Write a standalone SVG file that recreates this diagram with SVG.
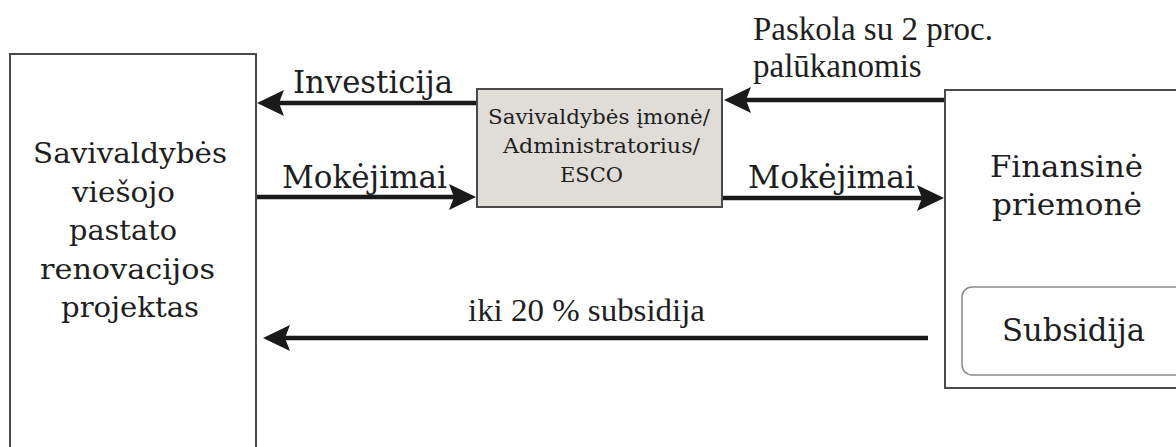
<svg xmlns="http://www.w3.org/2000/svg" width="1176" height="447" viewBox="0 0 1176 447">
<defs>
<style>
.box{fill:#ffffff;stroke:#4a4a4a;stroke-width:2}
.mid{fill:#e0ddd8;stroke:#4a4a4a;stroke-width:2}
.sub{fill:#ffffff;stroke:#8a8a8a;stroke-width:1.5}
.t{font-family:"Liberation Serif","Times New Roman",serif;fill:#1e1e1e}
.g{font-family:"DejaVu Serif","Liberation Serif",serif;fill:#1e1e1e}
.arr{stroke:#1a1a1a;stroke-width:4.5;fill:none}
</style>
<marker id="ah" markerUnits="userSpaceOnUse" markerWidth="28" markerHeight="26" viewBox="0 0 28 26" refX="5" refY="13" orient="auto">
<path d="M0,0 L27,13 L0,26 L5,13 Z" fill="#1a1a1a"/>
</marker>
</defs>
<rect width="1176" height="447" fill="#ffffff"/>

<g id="connectors">
<line class="arr" x1="477" y1="103" x2="279" y2="103" marker-end="url(#ah)"/>
<line class="arr" x1="256" y1="197" x2="454" y2="197" marker-end="url(#ah)"/>
<line class="arr" x1="945" y1="100" x2="746" y2="100" marker-end="url(#ah)"/>
<line class="arr" x1="723" y1="198" x2="922" y2="198" marker-end="url(#ah)"/>
<line class="arr" x1="928" y1="338" x2="285" y2="338" marker-end="url(#ah)"/>
<text class="g" x="293" y="93" font-size="31" textLength="160" lengthAdjust="spacingAndGlyphs">Investicija</text>
<text class="g" x="282" y="188" font-size="31" textLength="165" lengthAdjust="spacingAndGlyphs">Mokėjimai</text>
<text class="g" x="748" y="188" font-size="31" textLength="167" lengthAdjust="spacingAndGlyphs">Mokėjimai</text>
<text class="t" x="753" y="40" font-size="33" textLength="240" lengthAdjust="spacingAndGlyphs">Paskola su 2 proc.</text>
<text class="t" x="753" y="77" font-size="33">palūkanomis</text>
<text class="t" x="468" y="321" font-size="31" textLength="237" lengthAdjust="spacingAndGlyphs">iki 20 % subsidija</text>
</g>

<g id="node-projektas">
<rect class="box" x="10" y="54" width="246" height="420"/>
<text class="g" font-size="27">
<tspan x="33" y="163" textLength="194" lengthAdjust="spacingAndGlyphs">Savivaldybės</tspan>
<tspan x="72" y="202" textLength="103" lengthAdjust="spacingAndGlyphs">viešojo</tspan>
<tspan x="69" y="240" textLength="108" lengthAdjust="spacingAndGlyphs">pastato</tspan>
<tspan x="40" y="279" textLength="175" lengthAdjust="spacingAndGlyphs">renovacijos</tspan>
<tspan x="61" y="317" textLength="138" lengthAdjust="spacingAndGlyphs">projektas</tspan>
</text>
</g>

<g id="node-imone">
<rect class="mid" x="477" y="89" width="245" height="118"/>
<text class="g" x="488" y="124" font-size="21" textLength="222" lengthAdjust="spacingAndGlyphs">Savivaldybės įmonė/</text>
<text class="g" x="503" y="153" font-size="21" textLength="197" lengthAdjust="spacingAndGlyphs">Administratorius/</text>
<text class="g" x="560" y="182" font-size="21" textLength="63" lengthAdjust="spacingAndGlyphs">ESCO</text>
</g>

<g id="node-finansine">
<rect class="box" x="945" y="90" width="240" height="298"/>
<text class="g" x="990" y="177" font-size="30" textLength="153" lengthAdjust="spacingAndGlyphs">Finansinė</text>
<text class="g" x="992" y="215" font-size="30" textLength="150" lengthAdjust="spacingAndGlyphs">priemonė</text>
</g>

<g id="node-subsidija">
<rect class="sub" x="962" y="287" width="226" height="88" rx="10" ry="10"/>
<text class="g" x="1002" y="341" font-size="32" textLength="143" lengthAdjust="spacingAndGlyphs">Subsidija</text>
</g>
</svg>
